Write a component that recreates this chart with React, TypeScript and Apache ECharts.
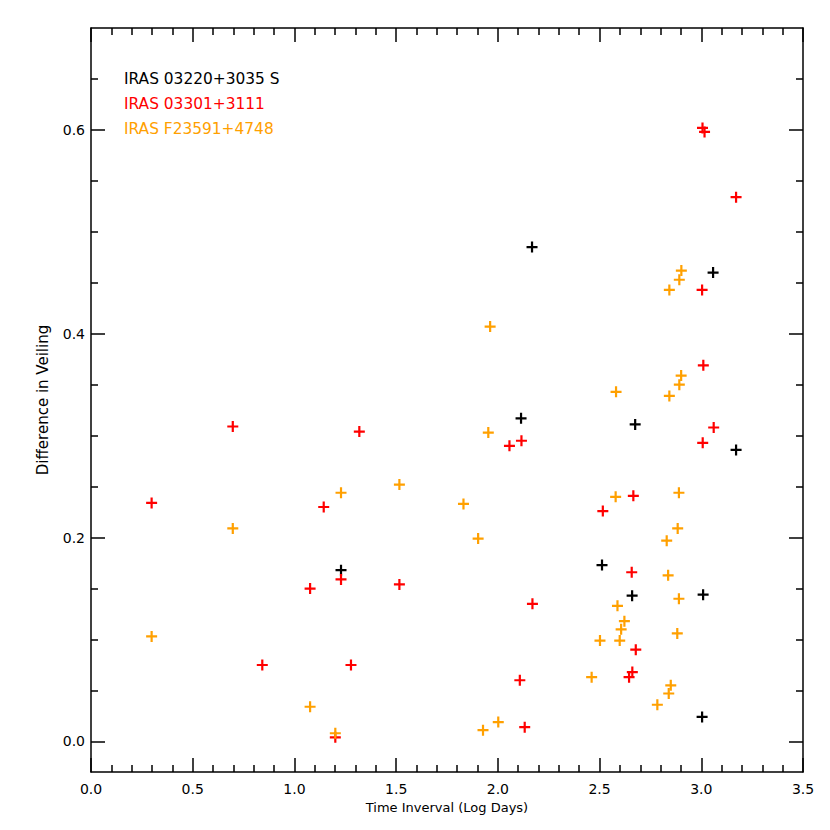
import React, { useEffect, useRef } from "react";
import * as echarts from "echarts";

const seriesNames = ["IRAS 03220+3035 S", "IRAS 03301+3111", "IRAS F23591+4748"];
const seriesColors = ["#000000", "#ff0000", "#ffa000"];

const blackPts: [number, number][] = [
  [2.168, 0.485], [3.058, 0.460], [2.114, 0.317], [2.675, 0.311], [3.171, 0.286],
  [1.229, 0.168], [2.512, 0.173], [2.660, 0.143], [3.009, 0.144], [3.004, 0.024],
];

const redPts: [number, number][] = [
  [0.697, 0.309], [1.319, 0.304], [0.298, 0.234], [1.144, 0.230], [1.077, 0.150],
  [1.229, 0.159], [1.516, 0.154], [0.842, 0.075], [1.278, 0.075], [1.201, 0.004],
  [3.006, 0.602], [3.016, 0.598], [3.171, 0.534], [3.004, 0.443], [3.010, 0.369],
  [3.061, 0.308], [3.007, 0.293], [2.057, 0.290], [2.116, 0.295], [2.666, 0.241],
  [2.516, 0.226], [2.658, 0.166], [2.170, 0.135], [2.678, 0.090], [2.661, 0.068],
  [2.645, 0.063], [2.108, 0.060], [2.132, 0.014],
];

const orangePts: [number, number][] = [
  [0.298, 0.103], [0.697, 0.209], [1.229, 0.244], [1.516, 0.252], [1.077, 0.034],
  [1.201, 0.008], [1.831, 0.233], [1.903, 0.199], [1.962, 0.407], [1.953, 0.303],
  [2.581, 0.343], [2.902, 0.462], [2.892, 0.453], [2.843, 0.443], [2.901, 0.359],
  [2.892, 0.350], [2.843, 0.339], [2.579, 0.240], [2.890, 0.244], [2.884, 0.209],
  [2.830, 0.197], [2.837, 0.163], [2.890, 0.140], [2.588, 0.133], [2.622, 0.118],
  [2.606, 0.110], [2.502, 0.099], [2.599, 0.099], [2.882, 0.106], [2.461, 0.063],
  [2.850, 0.055], [2.840, 0.047], [2.784, 0.036], [2.002, 0.019], [1.927, 0.011],
];

const xTickLabels = ["0.0", "0.5", "1.0", "1.5", "2.0", "2.5", "3.0", "3.5"];
const yMajorTicks = [0, 0.2, 0.4, 0.6];
const yMinorTicks = [0.05, 0.1, 0.15, 0.25, 0.3, 0.35, 0.45, 0.5, 0.55, 0.65];

const FONT = "DejaVu Sans";
const PLUS = "path://M-1,-5H1V-1H5V1H1V5H-1V1H-5V-1H-1Z";

export default function App() {
  const ref = useRef<HTMLDivElement>(null);
  useEffect(() => {
    if (!ref.current) return;
    const chart = echarts.init(ref.current, undefined, { renderer: "svg" });
    const lineStyle = { color: "#000", width: 1.5 };
    const axisLine = { show: true, onZero: false, lineStyle };
    const majorTick = { show: true, inside: true, length: 14, lineStyle };
    const minorTick = { show: true, length: 7, lineStyle };
    const yBase = { type: "value", min: -0.03, max: 0.7, splitLine: { show: false } };
    const allData = [blackPts, redPts, orangePts];
    chart.setOption({
      animation: false,
      backgroundColor: "#fff",
      grid: { left: 91, right: 27, top: 28, bottom: 58, containLabel: false },
      legend: {
        orient: "vertical",
        left: 114,
        top: 66,
        icon: "none",
        itemWidth: 0,
        itemHeight: 14,
        itemGap: 10,
        selectedMode: false,
        data: seriesNames.map((n, i) => ({ name: n, textStyle: { color: seriesColors[i] } })),
        textStyle: { fontFamily: FONT, fontSize: 15.4 },
      },
      xAxis: [
        {
          type: "value",
          min: 0,
          max: 3.5,
          interval: 0.5,
          name: "Time Inverval (Log Days)",
          nameLocation: "middle",
          nameGap: 24,
          nameTextStyle: { fontFamily: FONT, fontSize: 13, color: "#000" },
          axisLine,
          axisTick: majorTick,
          minorTick: { ...minorTick, splitNumber: 5 },
          splitLine: { show: false },
          axisLabel: {
            color: "#000",
            fontFamily: FONT,
            fontSize: 14,
            margin: 10,
            formatter: (v: number) => xTickLabels[Math.round(v / 0.5)] ?? v.toFixed(1),
          },
        },
        {
          type: "value",
          position: "top",
          min: 0,
          max: 3.5,
          interval: 0.5,
          axisLine,
          axisTick: majorTick,
          minorTick: { ...minorTick, splitNumber: 5 },
          splitLine: { show: false },
          axisLabel: { show: false },
        },
      ],
      yAxis: [
        {
          ...yBase,
          position: "left",
          name: "Difference in Veiling",
          nameLocation: "middle",
          nameGap: 41,
          nameTextStyle: { fontFamily: FONT, fontSize: 15, color: "#000" },
          axisLine,
          axisTick: { ...majorTick, customValues: yMajorTicks },
          axisLabel: {
            customValues: yMajorTicks,
            color: "#000",
            fontFamily: FONT,
            fontSize: 14,
            margin: 6,
            formatter: (v: number) => v.toFixed(1),
          },
        },
        {
          ...yBase,
          position: "left",
          axisLine: { show: false, onZero: false },
          axisTick: { show: true, inside: true, length: 7, lineStyle, customValues: yMinorTicks },
          axisLabel: { show: false },
        },
        {
          ...yBase,
          position: "right",
          axisLine,
          axisTick: { ...majorTick, customValues: yMajorTicks },
          axisLabel: { show: false },
        },
        {
          ...yBase,
          position: "right",
          axisLine: { show: false, onZero: false },
          axisTick: { show: true, inside: true, length: 7, lineStyle, customValues: yMinorTicks },
          axisLabel: { show: false },
        },
      ],
      series: allData.map((d, i) => ({
        type: "scatter",
        name: seriesNames[i],
        xAxisIndex: 0,
        yAxisIndex: 0,
        data: d,
        symbol: PLUS,
        symbolSize: 11,
        itemStyle: { color: seriesColors[i], opacity: 1 },
        z: 3 + i,
      })),
    });
    return () => chart.dispose();
  }, []);
  return <div ref={ref} style={{ position: "fixed", left: 0, top: 0, width: 830, height: 830 }} />;
}
